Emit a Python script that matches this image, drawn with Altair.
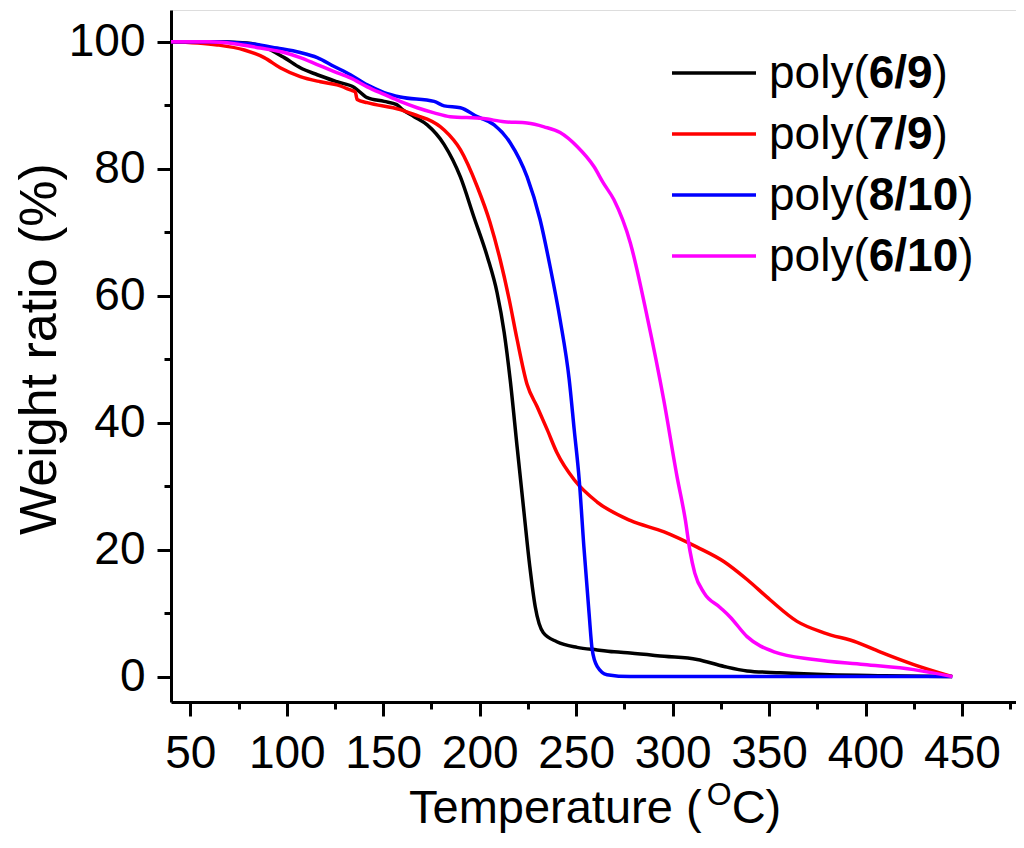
import altair as alt
import pandas as pd

# ---------------- data ----------------
series_names = ["poly(6/9)", "poly(7/9)", "poly(8/10)", "poly(6/10)"]
series_colors = ["#000000", "#FF0000", "#0000FF", "#FF00FF"]

t_69 = [40, 60, 79.5, 88, 98.7, 107, 115.8, 126, 135, 141.7, 150.5, 157, 160, 166, 172.8, 181.6,
        190, 197, 204, 209, 212.7, 215.8, 219.4, 223, 226, 228.8, 233, 240, 250.5, 260.9, 269.7,
        278, 295.6, 312.7, 326.7, 338.6, 355.7, 381.6, 410, 444.8]
w_69 = [100, 100, 99.8, 99.2, 97.5, 95.9, 94.8, 93.7, 92.8, 91.2, 90.6, 90.1, 89.3, 88.2, 86.9, 83.8,
        78.7, 72.4, 66.1, 60.5, 54.2, 46.8, 36.2, 25.8, 17.3, 11.0, 6.9, 5.5, 4.6, 4.2, 3.9,
        3.7, 3.2, 2.7, 1.6, 0.9, 0.6, 0.3, 0.15, 0]

t_79 = [40, 64, 78, 88.3, 96.6, 107, 117.4, 126, 133, 135.5, 136.5, 141.7, 158.8, 169, 172.8, 181.6,
        190, 198.7, 205.4, 210.6, 215.3, 219.4, 224.6, 229.8, 235, 240, 249, 260.9, 278, 295.6,
        312.7, 326.7, 338.6, 350.5, 364.5, 378.5, 395.6, 407.5, 425, 445]
w_79 = [100, 99.5, 98.7, 97.5, 95.9, 94.5, 93.7, 93.2, 92.4, 92.1, 90.9, 90.4, 89.3, 88.2, 87.8, 86.1,
        83.0, 77.2, 71.5, 65.7, 59.4, 53.1, 46.0, 42.5, 38.9, 35.3, 31.0, 27.5, 24.6, 22.8,
        20.4, 18.1, 15.3, 12.1, 8.7, 6.9, 5.4, 3.9, 1.9, 0]

t_810 = [40, 60, 81, 95, 107, 115.8, 124.6, 133, 141.7, 150.5, 158.8, 176.4, 181.6, 190, 198.7, 207.5,
         215.8, 224.6, 231.3, 236.5, 241.7, 246.4, 249, 251.6, 254, 256.7, 258.3, 260.9, 266, 278,
         350, 445]
w_810 = [100, 100, 99.7, 99.0, 98.3, 97.5, 96.1, 94.8, 93.2, 92.0, 91.3, 90.6, 89.9, 89.6, 88.2, 86.9,
         84.1, 78.7, 72.0, 64.6, 56.2, 46.8, 38.9, 31.0, 20.5, 10.0, 4.3, 1.6, 0.3, 0,
         0, 0]

t_610 = [40, 60, 72.8, 86.3, 98.7, 107, 115.8, 124.6, 133, 141.7, 150.5, 158.8, 167.6, 176.4, 184.7,
         202, 212.7, 224.6, 233.4, 241.7, 250.5, 259.3, 264, 269.6, 278.1, 286.8, 295.4, 302.3,
         306.6, 309, 311.5, 316.3, 324.6, 329.8, 338.6, 352.6, 373.3, 399.2, 425, 445]
w_610 = [100, 100, 99.7, 99.0, 98.3, 97.5, 96.4, 95.3, 94.3, 92.9, 91.7, 90.6, 89.6, 88.8, 88.2,
         87.9, 87.4, 87.2, 86.6, 85.7, 83.5, 80.3, 77.8, 75.1, 68.3, 56.7, 43.6, 31.5,
         24.7, 19.8, 16.3, 13.2, 10.9, 9.4, 6.3, 3.9, 2.7, 1.9, 1.1, 0]

# legend label pieces: (normal prefix, bold part, normal suffix)
legend_parts = [("poly(", "6/9", ")"), ("poly(", "7/9", ")"), ("poly(", "8/10", ")"), ("poly(", "6/10", ")")]

x_ticks = list(range(50, 476, 25))
y_ticks = list(range(0, 101, 10))

# ---------------- build table ----------------
rows = []
for name, ts, ws in zip(series_names, [t_69, t_79, t_810, t_610], [w_69, w_79, w_810, w_610]):
    for i, (t, w) in enumerate(zip(ts, ws)):
        rows.append({"series": name, "T": t, "W": w, "i": i})
df = pd.DataFrame(rows)

FONT = "Liberation Sans"
W_PLOT, H_PLOT = 845, 692
OX, OY = 171, 10  # page position of the plot's top-left corner

xaxis = alt.Axis(
    values=x_ticks,
    labelExpr="datum.value % 50 === 0 ? datum.label : ''",
    tickSize={"condition": {"test": "datum.value % 50 === 0", "value": 14}, "value": 7},
    tickWidth=3, tickColor="black", domainWidth=3, domainColor="black",
    labelFont=FONT, labelFontSize=46, labelColor="black", labelPadding=15,
    labelFlush=False, labelOverlap=False, labelBound=False,
    grid=False, title=None,
)
yaxis = alt.Axis(
    values=y_ticks,
    labelExpr="datum.value % 20 === 0 ? datum.label : ''",
    tickSize={"condition": {"test": "datum.value % 20 === 0", "value": 14}, "value": 7},
    tickWidth=3, tickColor="black", domainWidth=3, domainColor="black",
    labelFont=FONT, labelFontSize=46, labelColor="black", labelPadding=12,
    labelFlush=False, labelOverlap=False, labelBound=False,
    grid=False, title=None,
)

lines = alt.Chart(df).mark_line(strokeWidth=3.5, interpolate="monotone", clip=True).encode(
    x=alt.X("T:Q", scale=alt.Scale(domain=[40, 478], nice=False, zero=False), axis=xaxis),
    y=alt.Y("W:Q", scale=alt.Scale(domain=[-4, 105], nice=False, zero=False), axis=yaxis),
    color=alt.Color("series:N", scale=alt.Scale(domain=series_names, range=series_colors), legend=None),
    order="i:Q",
)

layers = [lines]

# ---------------- manual legend ----------------
adv = {"p": 0.556, "o": 0.556, "l": 0.222, "y": 0.5, "(": 0.333, ")": 0.333, "/": 0.278,
       "0": 0.556, "1": 0.556, "6": 0.556, "7": 0.556, "8": 0.556, "9": 0.556}
LFS = 46
leg_x0, leg_x1, leg_tx = 672 - OX, 756 - OX, 769 - OX
for k, (name, color, parts) in enumerate(zip(series_names, series_colors, legend_parts)):
    yy = 73 - OY + 61 * k
    layers.append(
        alt.Chart(pd.DataFrame({"s": [name]})).mark_rule(color=color, strokeWidth=3.5).encode(
            x=alt.value(leg_x0), x2=alt.value(leg_x1), y=alt.value(yy)
        )
    )
    xx = leg_tx
    for j, part in enumerate(parts):
        weight = "bold" if j == 1 else "normal"
        layers.append(
            alt.Chart(pd.DataFrame({"txt": [part]})).mark_text(
                font=FONT, fontSize=LFS, fontWeight=weight, color="black",
                align="left", baseline="alphabetic"
            ).encode(text="txt:N", x=alt.value(xx), y=alt.value(yy + 15))
        )
        xx += sum(adv[c] for c in part) * LFS

# ---------------- axis titles ----------------
TFS = 47
xt_x = 409 - OX
xt_base = 823 - OY
xt_parts = [("Temperature (", TFS, 0), ("O", 32, -18), ("C)", TFS, 0)]
xadv = {"T": 0.611, "e": 0.556, "m": 0.833, "p": 0.556, "r": 0.333, "a": 0.556, "t": 0.278,
        "u": 0.556, " ": 0.278, "(": 0.333, "O": 0.778, "C": 0.722, ")": 0.333}
for part, fs, dy in xt_parts:
    layers.append(
        alt.Chart(pd.DataFrame({"txt": [part]})).mark_text(
            font=FONT, fontSize=fs, color="black", align="left", baseline="alphabetic"
        ).encode(text="txt:N", x=alt.value(xt_x), y=alt.value(xt_base + dy))
    )
    xt_x += sum(xadv[c] for c in part) * fs

layers.append(
    alt.Chart(pd.DataFrame({"txt": ["Weight ratio (%)"]})).mark_text(
        font=FONT, fontSize=52, color="black", align="center", baseline="middle", angle=270
    ).encode(text="txt:N", x=alt.value(40 - OX), y=alt.value(349 - OY))
)

chart = alt.layer(*layers).properties(
    width=W_PLOT, height=H_PLOT,
    autosize=alt.AutoSizeParams(type="none"),
    padding={"left": OX - 8, "top": OY - 8, "right": 0, "bottom": 132},
).configure_view(stroke="black", strokeWidth=3).configure(background="white")

chart.save("out.html", embed_options={"renderer": "svg", "actions": False})
